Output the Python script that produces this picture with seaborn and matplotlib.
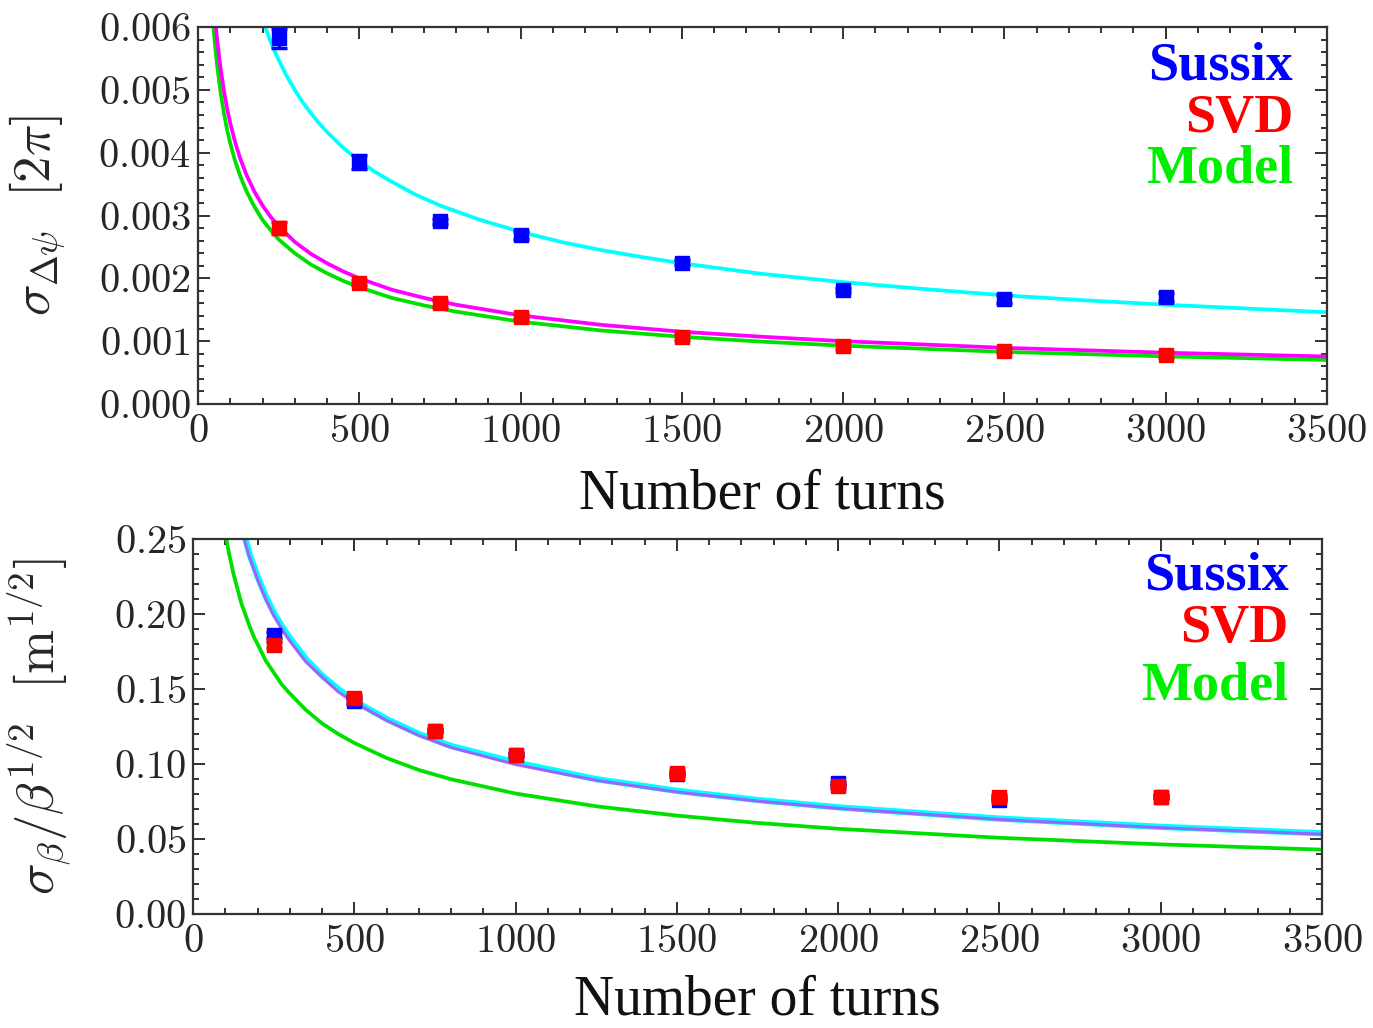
import numpy as np
import pandas as pd
import matplotlib
matplotlib.use("Agg")
import matplotlib.pyplot as plt
from matplotlib.ticker import MultipleLocator, FuncFormatter
import seaborn as sns

# ---------------- data: top panel (phase advance error) ----------------
turns = [250, 500, 750, 1000, 1500, 2000, 2500, 3000]
sussix_phase = [0.00582, 0.00385, 0.00291, 0.00269, 0.00225, 0.00182, 0.00167, 0.00170]
sussix_phase_err = [0.00015, 0.00011, 0.00004, 0.00006, 0.00004, 0.00003, 0.00006, 0.00006]
svd_phase = [0.00280, 0.00193, 0.00160, 0.00139, 0.00107, 0.00093, 0.00085, 0.00078]
svd_phase_err = [0.00010, 0.00004, 0.00005, 0.00004, 0.00005, 0.00005, 0.00004, 0.00005]

fit_turns_cyan_top = [150, 160, 175, 190, 200, 215, 225, 240, 250, 275, 300, 325, 350,
                      375, 400, 450, 500, 550, 600, 675, 750, 875, 1000, 1125, 1250,
                      1375, 1500, 1750, 2000, 2250, 2500, 2750, 3000, 3250, 3500]
fit_sussix_phase = [0.00707, 0.00685, 0.00655, 0.00628, 0.00612, 0.00591, 0.00577,
                    0.00559, 0.00548, 0.00522, 0.00500, 0.00480, 0.00463, 0.00447,
                    0.00433, 0.00408, 0.00387, 0.00369, 0.00354, 0.00333, 0.00316,
                    0.00293, 0.00274, 0.00258, 0.00245, 0.00234, 0.00224, 0.00207,
                    0.00194, 0.00183, 0.00173, 0.00165, 0.00158, 0.00152, 0.00146]
fit_turns_top = [30, 35, 40, 45, 50, 55, 60, 70, 80, 90, 100, 115, 130, 150, 175, 200,
                 225, 250, 300, 350, 400, 450, 500, 600, 700, 800, 1000, 1250, 1500,
                 1750, 2000, 2500, 3000, 3500]
fit_svd_phase = [0.00816, 0.00756, 0.00707, 0.00666, 0.00632, 0.00603, 0.00577, 0.00534,
                 0.00500, 0.00471, 0.00447, 0.00417, 0.00392, 0.00365, 0.00338, 0.00316,
                 0.00298, 0.00283, 0.00258, 0.00239, 0.00224, 0.00211, 0.00200, 0.00182,
                 0.00169, 0.00158, 0.00141, 0.00126, 0.00115, 0.00107, 0.00100, 0.000894,
                 0.000816, 0.000756]
fit_model_phase = [0.00758, 0.00701, 0.00656, 0.00619, 0.00587, 0.00560, 0.00536, 0.00496,
                   0.00464, 0.00437, 0.00415, 0.00387, 0.00364, 0.00339, 0.00314, 0.00293,
                   0.00277, 0.00262, 0.00240, 0.00222, 0.00208, 0.00196, 0.00186, 0.00169,
                   0.00157, 0.00147, 0.00131, 0.00117, 0.00107, 0.000992, 0.000928,
                   0.000830, 0.000758, 0.000701]

# ---------------- data: bottom panel (beta error) ----------------
sussix_beta = [0.186, 0.142, 0.122, 0.106, 0.093, 0.087, 0.076, 0.078]
sussix_beta_err = [0.002, 0.002, 0.001, 0.001, 0.001, 0.001, 0.001, 0.001]
svd_beta = [0.179, 0.144, 0.122, 0.106, 0.094, 0.085, 0.078, 0.078]
svd_beta_err = [0.002, 0.002, 0.001, 0.001, 0.001, 0.001, 0.001, 0.001]

fit_turns_bot = [60, 70, 80, 90, 100, 110, 125, 140, 150, 165, 175, 190, 200, 225, 250,
                 275, 300, 350, 400, 450, 500, 600, 700, 800, 1000, 1250, 1500, 1750,
                 2000, 2500, 3000, 3500]
fit_sussix_beta = [0.411, 0.380, 0.356, 0.335, 0.318, 0.303, 0.284, 0.269, 0.260, 0.248,
                   0.240, 0.231, 0.225, 0.212, 0.201, 0.192, 0.184, 0.170, 0.159, 0.150,
                   0.142, 0.130, 0.120, 0.112, 0.101, 0.0899, 0.0821, 0.0760, 0.0711,
                   0.0636, 0.0581, 0.0538]
fit_svd_beta = [0.407, 0.376, 0.352, 0.332, 0.315, 0.300, 0.282, 0.266, 0.257, 0.245,
                0.238, 0.229, 0.223, 0.210, 0.199, 0.190, 0.182, 0.168, 0.158, 0.148,
                0.141, 0.129, 0.119, 0.111, 0.0996, 0.0891, 0.0813, 0.0753, 0.0704,
                0.0630, 0.0575, 0.0532]
fit_model_beta = [0.328, 0.304, 0.284, 0.268, 0.254, 0.242, 0.227, 0.215, 0.207, 0.198,
                  0.192, 0.184, 0.180, 0.169, 0.161, 0.153, 0.147, 0.136, 0.127, 0.120,
                  0.114, 0.104, 0.0960, 0.0898, 0.0803, 0.0718, 0.0656, 0.0607, 0.0568,
                  0.0508, 0.0464, 0.0429]

legend_labels = ["Sussix", "SVD", "Model"]

# ---------------- style ----------------
sns.set_theme(style="ticks")
plt.rcParams["font.family"] = ["Liberation Serif", "DejaVu Serif"]
plt.rcParams["mathtext.fontset"] = "cm"
plt.rcParams["lines.solid_joinstyle"] = "round"

BLUE, RED = "#0000ff", "#ff0000"
CYAN, MAGENTA, GREEN = "#00ffff", "#ff00ff", "#00e000"
TEXT_GREEN = "#00ee00"

fig = plt.figure(figsize=(13.73, 10.28), dpi=100)
ax1 = fig.add_axes([0.1442, 0.6070, 0.8223, 0.3667])
ax2 = fig.add_axes([0.1406, 0.1109, 0.8223, 0.3648])


def style_axes(ax, ymax, ymajor, yminor, yfmt, xlab_y):
    ax.set_xlim(0, 3500)
    ax.set_ylim(0, ymax)
    ax.xaxis.set_major_locator(MultipleLocator(500))
    ax.xaxis.set_minor_locator(MultipleLocator(100))
    ax.yaxis.set_major_locator(MultipleLocator(ymajor))
    ax.yaxis.set_minor_locator(MultipleLocator(yminor))
    ax.xaxis.set_major_formatter(FuncFormatter(lambda v, p: f"${int(round(v))}$"))
    ax.yaxis.set_major_formatter(FuncFormatter(lambda v, p: "$" + (yfmt % v) + "$"))
    ax.tick_params(which="both", direction="in", top=True, right=True,
                   color="#222222", width=1.3)
    ax.tick_params(which="major", length=8.5, labelsize=29)
    ax.tick_params(which="minor", length=4.5)
    ax.tick_params(axis="x", which="major", pad=7)
    ax.tick_params(axis="y", which="major", pad=5)
    for s in ax.spines.values():
        s.set_color("#333333")
        s.set_linewidth(1.6)
    ax.set_xlabel("Number of turns", fontsize=40, color="#111111")
    ax.xaxis.set_label_coords(0.5, xlab_y)


def points(ax, x, y, err, color):
    ax.errorbar(x, y, yerr=err, fmt="s", ms=10.5, color=color, mec=color,
                ecolor=color, elinewidth=2.5, capsize=5.5, capthick=2.5,
                zorder=5, clip_on=True)


# ---------------- top panel ----------------
df_top_c = pd.DataFrame({"turns": fit_turns_cyan_top, "val": fit_sussix_phase})
df_top = pd.DataFrame({"turns": fit_turns_top, "svd": fit_svd_phase, "model": fit_model_phase})
sns.lineplot(data=df_top, x="turns", y="model", ax=ax1, color=GREEN, lw=2.7, sort=False)
sns.lineplot(data=df_top, x="turns", y="svd", ax=ax1, color=MAGENTA, lw=2.7, sort=False)
sns.lineplot(data=df_top_c, x="turns", y="val", ax=ax1, color=CYAN, lw=2.7, sort=False)
points(ax1, turns, sussix_phase, sussix_phase_err, BLUE)
points(ax1, turns, svd_phase, svd_phase_err, RED)
style_axes(ax1, 0.006, 0.001, 0.0002, "%.3f", -0.172)
ax1.set_ylabel(r"$\sigma_{\Delta\psi}\ \ [2\pi]$", fontsize=38)
ax1.yaxis.set_label_coords(-0.115, 0.5)

for lab, col, yy in zip(legend_labels, [BLUE, RED, TEXT_GREEN], [0.862, 0.722, 0.588]):
    ax1.text(0.970, yy, lab, transform=ax1.transAxes, ha="right", va="baseline",
             fontsize=39, fontweight="bold", color=col)

# ---------------- bottom panel ----------------
df_bot = pd.DataFrame({"turns": fit_turns_bot, "sussix": fit_sussix_beta,
                       "svd": fit_svd_beta, "model": fit_model_beta})
sns.lineplot(data=df_bot, x="turns", y="model", ax=ax2, color=GREEN, lw=2.7, sort=False)
sns.lineplot(data=df_bot, x="turns", y="sussix", ax=ax2, color=CYAN, lw=4.5, sort=False)
sns.lineplot(data=df_bot, x="turns", y="svd", ax=ax2, color=MAGENTA, lw=2.2, alpha=0.6,
             sort=False)
points(ax2, turns, sussix_beta, sussix_beta_err, BLUE)
points(ax2, turns, svd_beta, svd_beta_err, RED)
style_axes(ax2, 0.25, 0.05, 0.01, "%.2f", -0.162)
ax2.set_ylabel(r"$\sigma_{\beta}/\beta^{1/2}\ \ [\mathrm{m}^{1/2}]$", fontsize=38)
ax2.yaxis.set_label_coords(-0.105, 0.5)

for lab, col, yy in zip(legend_labels, [BLUE, RED, TEXT_GREEN], [0.866, 0.725, 0.573]):
    ax2.text(0.970, yy, lab, transform=ax2.transAxes, ha="right", va="baseline",
             fontsize=39, fontweight="bold", color=col)

fig.savefig("out.png", dpi=100)
